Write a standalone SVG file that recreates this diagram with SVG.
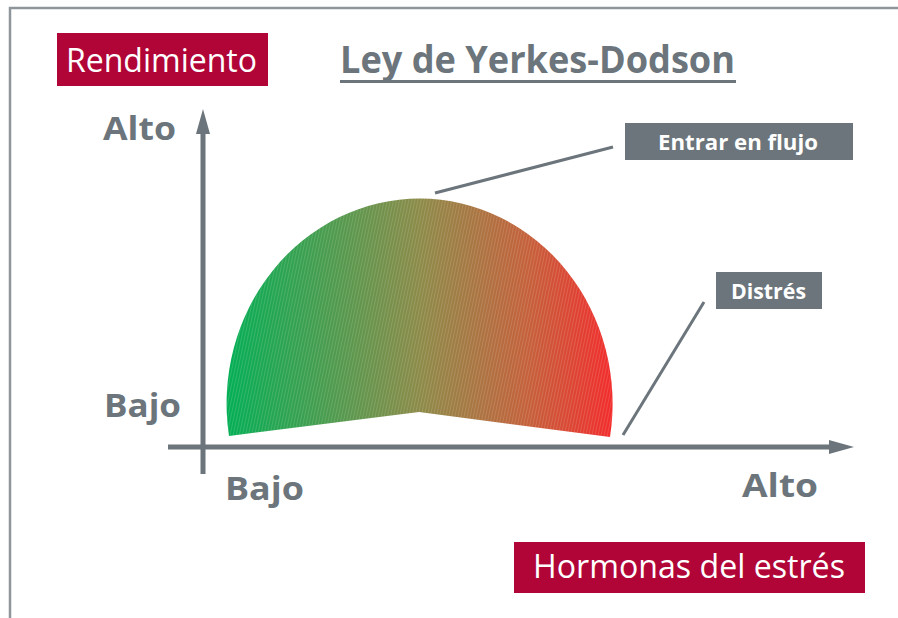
<svg xmlns="http://www.w3.org/2000/svg" width="898" height="618" viewBox="0 0 898 618">
  <defs>
    <style>
      .frame { fill: none; stroke: #8e969b; stroke-width: 2.5; }
      .axis { stroke: #6b757b; stroke-width: 5; fill: none; }
      .head { fill: #6b757b; }
      .leader { stroke: #6b757b; stroke-width: 3; fill: none; }
      .crimson { fill: #b10537; }
      .graybox { fill: #6b757b; }
      .wtxt { fill: #ffffff; font-family: "Open Sans", "Liberation Sans", sans-serif; }
      .btxt { fill: #ffffff; font-family: "Open Sans", "Liberation Sans", sans-serif; font-weight: bold; font-size: 22px; }
      .axlbl { fill: #6b757b; font-family: "Open Sans", "Liberation Sans", sans-serif; font-weight: bold; font-size: 32px; }
      .title { fill: #6b757b; font-family: "Open Sans", "Liberation Sans", sans-serif; font-weight: bold; font-size: 37px; }
    </style>
    <linearGradient id="heat" x1="229" y1="0" x2="613" y2="0" gradientUnits="userSpaceOnUse">
      <stop offset="0" stop-color="#05ae55"/>
      <stop offset="0.5" stop-color="#8d8a48"/>
      <stop offset="0.78" stop-color="#c5603a"/>
      <stop offset="1" stop-color="#f22c2c"/>
    </linearGradient>
    <pattern id="stripes" width="3" height="12" patternUnits="userSpaceOnUse" patternTransform="rotate(12)">
      <rect x="0" y="0" width="1" height="12" fill="#ffffff" opacity="0.14"/>
    </pattern>
  </defs>

  <!-- frame -->
  <path class="frame" d="M10,618 L10,8 L898,8"/>

  <!-- curve -->
  <g id="curve">
    <path d="M229,436 A193 205 0 1 1 610,437 L419,412 Z" fill="url(#heat)"/>
    <path d="M229,436 A193 205 0 1 1 610,437 L419,412 Z" fill="url(#stripes)"/>
  </g>

  <!-- axes and leader lines -->
  <g id="connectors">
    <line class="axis" x1="203" y1="474" x2="203" y2="130"/>
    <polygon class="head" points="203,109 196,134 210,134"/>
    <line class="axis" x1="168" y1="447" x2="833" y2="447"/>
    <polygon class="head" points="854,447 829,440 829,454"/>
    <line class="leader" x1="435" y1="193" x2="613" y2="147"/>
    <line class="leader" x1="704" y1="302" x2="623" y2="435"/>
  </g>

  <g id="rendimiento">
    <rect class="crimson" x="57" y="33" width="211" height="53"/>
    <text class="wtxt" x="66" y="72" font-size="32" textLength="191" lengthAdjust="spacingAndGlyphs">Rendimiento</text>
  </g>

  <g id="title">
    <text class="title" x="340" y="73" textLength="395" lengthAdjust="spacingAndGlyphs">Ley de Yerkes-Dodson</text>
    <rect x="340" y="80" width="396" height="3" fill="#6b757b"/>
  </g>

  <g id="y-alto"><text class="axlbl" x="103" y="140" textLength="73" lengthAdjust="spacingAndGlyphs">Alto</text></g>
  <g id="y-bajo"><text class="axlbl" x="104" y="417" textLength="77" lengthAdjust="spacingAndGlyphs">Bajo</text></g>
  <g id="x-bajo"><text class="axlbl" x="225" y="500" textLength="79" lengthAdjust="spacingAndGlyphs">Bajo</text></g>
  <g id="x-alto"><text class="axlbl" x="742" y="497" textLength="76" lengthAdjust="spacingAndGlyphs">Alto</text></g>

  <g id="entrar-en-flujo">
    <rect class="graybox" x="625" y="123" width="228" height="37"/>
    <text class="btxt" x="658" y="150" textLength="160" lengthAdjust="spacingAndGlyphs">Entrar en flujo</text>
  </g>

  <g id="distres">
    <rect class="graybox" x="716" y="272" width="106" height="37"/>
    <text class="btxt" x="731" y="299" textLength="75" lengthAdjust="spacingAndGlyphs">Distrés</text>
  </g>

  <g id="hormonas">
    <rect class="crimson" x="514" y="542" width="351" height="51"/>
    <text class="wtxt" x="533" y="578" font-size="33" textLength="312" lengthAdjust="spacingAndGlyphs">Hormonas del estrés</text>
  </g>
</svg>
